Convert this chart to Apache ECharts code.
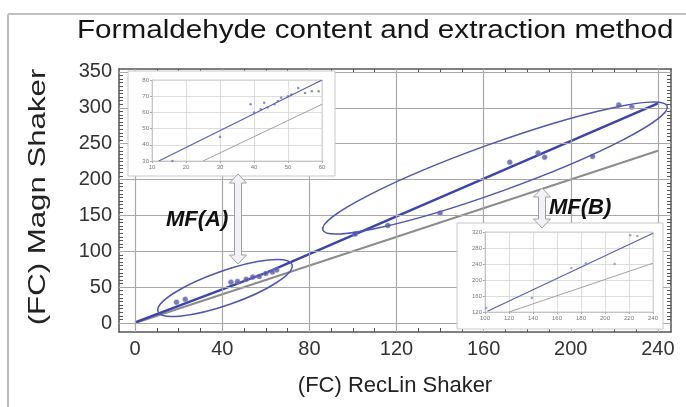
<!DOCTYPE html>
<html>
<head>
<meta charset="utf-8">
<script src="https://cdn.jsdelivr.net/npm/echarts@6/dist/echarts.min.js"></script>
<style>
  html, body { margin: 0; padding: 0; background: #fff; }
  #chart { width: 686px; height: 407px; }
</style>
</head>
<body>
<div id="chart"></div>
<script>
// main plot: all samples
const mainX = [19, 23, 44, 47, 51, 54, 57, 60, 63, 65, 101, 116, 140, 172, 185, 188, 210, 222, 228];
const mainY = [29, 33, 57, 58, 61, 64, 65, 69, 71, 74, 124, 136, 153, 224, 237, 231, 232, 304, 301];
const fitX = [0, 60, 240];
const fitY = [1, 70, 306];
const refX = [0, 240];
const refY = [0, 240];
const xLabels = [0, 40, 80, 120, 160, 200, 240];
const yLabels = [0, 50, 100, 150, 200, 250, 300, 350];

// inset A (MF(A) zoom)
const aX = [16, 30, 39, 40, 42, 43, 44, 46, 47, 48, 50, 51, 53, 55, 57, 59];
const aY = [30, 45, 65, 60, 62, 66, 63, 65, 67, 69, 70, 71, 75, 72, 73, 73];
const aFitX = [12, 60];
const aFitY = [30, 80];
const aRefX = [25, 60];
const aRefY = [30, 65];

// inset B (MF(B) zoom)
const bX = [101, 139, 172, 184, 208, 221, 227];
const bY = [130, 155, 230, 242, 240, 312, 310];
const bFitX = [102, 240];
const bFitY = [122, 317];
const bRefX = [120, 240];
const bRefY = [120, 242];

function pairs(xs, ys) {
  return xs.map(function (x, i) { return [x, ys[i]]; });
}
function steps(a, b, s) {
  const r = [];
  for (let v = a; v <= b; v += s) r.push(v);
  return r;
}

const FONT = 'Liberation Sans';
const BLUE = '#3d44ad';
const DOT = '#5659a9';
const GREY = '#8c8c8c';

// hollow double arrow
function arrow(cx, y1, y2) {
  const hw = 8.5, sw = 3.5, hl = 9;
  return {
    type: 'polygon', z: 20,
    shape: { points: [
      [cx, y1], [cx + hw, y1 + hl], [cx + sw, y1 + hl], [cx + sw, y2 - hl], [cx + hw, y2 - hl],
      [cx, y2], [cx - hw, y2 - hl], [cx - sw, y2 - hl], [cx - sw, y1 + hl], [cx - hw, y1 + hl]
    ] },
    style: { fill: '#f2f2f4', stroke: '#a0a0a8', lineWidth: 1 }
  };
}
function ring(cx, cy, rx, ry, deg) {
  return {
    type: 'ellipse', z: 20, x: cx, y: cy, rotation: deg * Math.PI / 180,
    shape: { cx: 0, cy: 0, rx: rx, ry: ry },
    style: { fill: 'none', stroke: '#4f55b3', lineWidth: 1.5 }
  };
}

const gridLines = xLabels.map(function (v) { return { xAxis: v }; })
  .concat(yLabels.map(function (v) { return { yAxis: v }; }));

const frameLine = { show: true, onZero: false, lineStyle: { color: '#555', width: 1.5 } };
const insetAxis = {
  axisLine: { show: true, onZero: false, lineStyle: { color: '#c4c4c4', width: 1 } },
  axisTick: { show: true, length: 2, lineStyle: { color: '#aaa' } },
  axisLabel: { fontSize: 6, color: '#777', margin: 3, fontFamily: FONT },
  splitLine: { show: true, lineStyle: { color: '#d4d4d4', width: 0.8 } },
  z: 10
};

const chart = echarts.init(document.getElementById('chart'), null, { renderer: 'canvas' });
chart.setOption({
  backgroundColor: '#fff',
  animation: false,
  grid: [
    { left: 119, right: 15, top: 69, bottom: 75 },
    { left: 152, top: 80, width: 170, height: 81, show: true, backgroundColor: '#fff', borderColor: '#d0d0d0', z: 9 },
    { left: 485, top: 232, width: 168, height: 80, show: true, backgroundColor: '#fff', borderColor: '#d0d0d0', z: 9 }
  ],
  xAxis: [
    {
      type: 'value', gridIndex: 0, min: -7.4, max: 246, position: 'bottom',
      axisLine: frameLine,
      axisTick: { inside: true, length: 4, customValues: steps(0, 240, 10), lineStyle: { color: '#555' } },
      axisLabel: { customValues: xLabels, fontSize: 20, color: '#333', margin: 7, fontFamily: FONT },
      splitLine: { show: false },
      name: '(FC) RecLin Shaker', nameLocation: 'middle', nameGap: 43,
      nameTextStyle: { fontSize: 22, color: '#222', fontFamily: FONT }
    },
    {
      type: 'value', gridIndex: 0, min: -7.4, max: 246, position: 'top',
      axisLine: frameLine,
      axisTick: { inside: true, length: 4, customValues: steps(0, 240, 10), lineStyle: { color: '#555' } },
      axisLabel: { show: false }, splitLine: { show: false }
    },
    Object.assign({ type: 'value', gridIndex: 1, min: 10, max: 60, interval: 10 }, insetAxis),
    Object.assign({ type: 'value', gridIndex: 2, min: 100, max: 240, interval: 20 }, insetAxis)
  ],
  yAxis: [
    {
      type: 'value', gridIndex: 0, min: -12.5, max: 354, position: 'left',
      axisLine: frameLine,
      axisTick: { show: true, inside: true, length: 4, customValues: steps(0, 350, 5), lineStyle: { color: '#555' } },
      axisLabel: { customValues: yLabels, fontSize: 20, color: '#333', margin: 7, fontFamily: FONT },
      splitLine: { show: false }
    },
    {
      type: 'value', gridIndex: 0, min: -12.5, max: 354, position: 'right',
      axisLine: frameLine,
      axisTick: { show: true, inside: true, length: 4, customValues: steps(0, 350, 5), lineStyle: { color: '#555' } },
      axisLabel: { show: false }, splitLine: { show: false }
    },
    Object.assign({ type: 'value', gridIndex: 1, min: 30, max: 80, interval: 10 }, insetAxis),
    Object.assign({ type: 'value', gridIndex: 2, min: 120, max: 320, interval: 40 }, insetAxis)
  ],
  series: [
    {
      type: 'line', xAxisIndex: 0, yAxisIndex: 0, data: [], z: 1, silent: true,
      markLine: {
        silent: true, symbol: ['none', 'none'], label: { show: false },
        lineStyle: { color: '#a8a8a8', width: 1.2, type: 'solid' },
        data: gridLines
      }
    },
    {
      type: 'line', xAxisIndex: 0, yAxisIndex: 0, data: pairs(refX, refY), showSymbol: false,
      lineStyle: { color: GREY, width: 2 }, z: 2
    },
    {
      type: 'line', xAxisIndex: 0, yAxisIndex: 0, data: pairs(fitX, fitY), showSymbol: false,
      lineStyle: { color: BLUE, width: 2.5 }, z: 3
    },
    {
      type: 'scatter', xAxisIndex: 0, yAxisIndex: 0, data: pairs(mainX, mainY), symbolSize: 5,
      itemStyle: { color: DOT, borderColor: '#8e90c8', borderWidth: 0.8 }, z: 4
    },
    {
      type: 'line', xAxisIndex: 2, yAxisIndex: 2, data: pairs(aRefX, aRefY), showSymbol: false,
      lineStyle: { color: '#a0a0a0', width: 1 }, z: 11
    },
    {
      type: 'line', xAxisIndex: 2, yAxisIndex: 2, data: pairs(aFitX, aFitY), showSymbol: false,
      lineStyle: { color: '#5a60bb', width: 1.2 }, z: 11
    },
    {
      type: 'scatter', xAxisIndex: 2, yAxisIndex: 2, data: pairs(aX, aY), symbolSize: 2.5,
      itemStyle: { color: '#6a6dbb' }, z: 12
    },
    {
      type: 'line', xAxisIndex: 3, yAxisIndex: 3, data: pairs(bRefX, bRefY), showSymbol: false,
      lineStyle: { color: '#a0a0a0', width: 1 }, z: 11
    },
    {
      type: 'line', xAxisIndex: 3, yAxisIndex: 3, data: pairs(bFitX, bFitY), showSymbol: false,
      lineStyle: { color: '#5a60bb', width: 1.2 }, z: 11
    },
    {
      type: 'scatter', xAxisIndex: 3, yAxisIndex: 3, data: pairs(bX, bY), symbolSize: 2.5,
      itemStyle: { color: '#8b8ec6' }, z: 12
    }
  ],
  graphic: [
    { type: 'line', z: 1, shape: { x1: 8, y1: 14, x2: 686, y2: 14 }, style: { stroke: '#c0c0c0', lineWidth: 2 } },
    { type: 'line', z: 1, shape: { x1: 8, y1: 14, x2: 8, y2: 407 }, style: { stroke: '#c0c0c0', lineWidth: 2 } },
    {
      type: 'text', z: 21, x: 77, y: 31, scaleX: 1.14,
      style: { text: 'Formaldehyde content and extraction method', fill: '#151515', font: '26px ' + FONT, textVerticalAlign: 'middle' }
    },
    {
      type: 'text', z: 21, x: 38, y: 197, rotation: Math.PI / 2, scaleX: 1.3,
      style: { text: '(FC) Magn Shaker', fill: '#222', font: '24px ' + FONT, textAlign: 'center', textVerticalAlign: 'middle' }
    },
    { type: 'rect', z: 8, shape: { x: 128, y: 71, width: 207, height: 105 }, style: { fill: '#fff', stroke: '#c8c8c8', lineWidth: 1 } },
    { type: 'rect', z: 8, shape: { x: 457, y: 223, width: 206, height: 106 }, style: { fill: '#fff', stroke: '#c8c8c8', lineWidth: 1 } },
    ring(225, 288, 71, 17, 19.3),
    ring(495, 168, 183, 24, 19.8),
    arrow(238, 174, 264),
    arrow(542, 188, 228),
    { type: 'text', z: 21, x: 166, y: 220, style: { text: 'MF(A)', fill: '#111', font: 'italic bold 22px ' + FONT, textVerticalAlign: 'middle' } },
    { type: 'text', z: 21, x: 549, y: 208, style: { text: 'MF(B)', fill: '#111', font: 'italic bold 22px ' + FONT, textVerticalAlign: 'middle' } }
  ]
});
</script>
</body>
</html>
